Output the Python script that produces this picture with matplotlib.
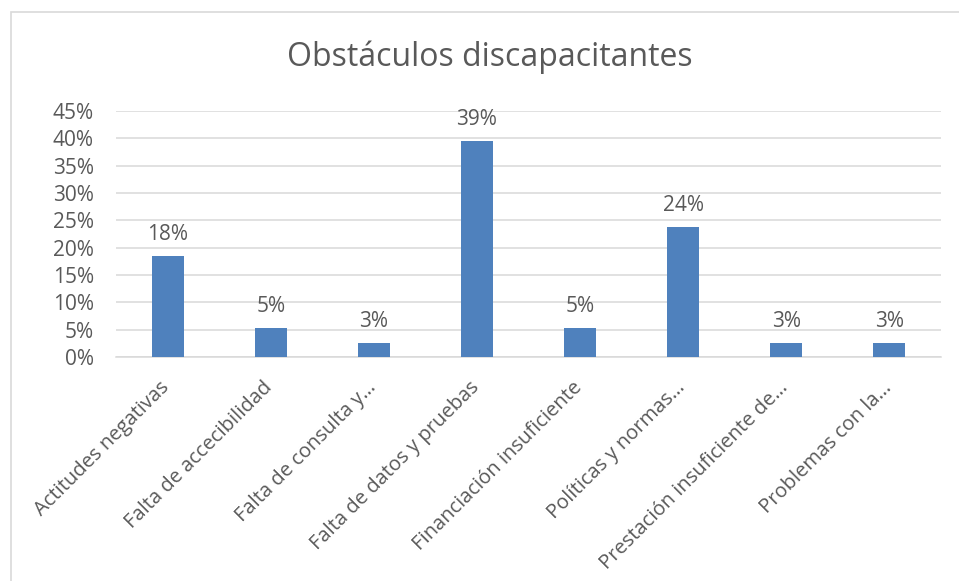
import matplotlib
matplotlib.use("Agg")
import matplotlib.pyplot as plt
import matplotlib.ticker as ticker
import matplotlib.transforms as mtransforms
from matplotlib.patches import Rectangle

# ── Data ──────────────────────────────────────────────────────────────────────
categories = [
    "Actitudes negativas",
    "Falta de accecibilidad",
    "Falta de consulta y…",
    "Falta de datos y pruebas",
    "Financiación insuficiente",
    "Políticas y normas…",
    "Prestación insuficiente de…",
    "Problemas con la…",
]
shares = [0.184, 0.053, 0.026, 0.395, 0.053, 0.237, 0.026, 0.026]
value_labels = ["18%", "5%", "3%", "39%", "5%", "24%", "3%", "3%"]
y_ticks = [0.00, 0.05, 0.10, 0.15, 0.20, 0.25, 0.30, 0.35, 0.40, 0.45]

TEXT = "#595959"
BAR = "#4f81bd"
GRID = "#d9d9d9"

plt.rcParams["font.family"] = ["Open Sans", "DejaVu Sans"]

fig = plt.figure(figsize=(9.59, 5.81), dpi=100)
ax = fig.add_axes([116 / 959, 1 - 357 / 581, (941 - 116) / 959, (357 - 111) / 581])

# chart border (only top/left visible in the crop)
fig.patches.append(Rectangle((10.5 / 959, -0.05), 1.1, 1 - 11.5 / 581 + 0.05,
                             transform=fig.transFigure, fill=False,
                             edgecolor="#d9d9d9", linewidth=1.2))

x = range(len(categories))
bars = ax.bar(x, shares, width=0.31, color=BAR, zorder=3)

for rect, lab in zip(bars, value_labels):
    ax.annotate(lab, xy=(rect.get_x() + rect.get_width() / 2, rect.get_height()),
                xytext=(0, 8), textcoords="offset points",
                ha="center", va="bottom", fontsize=15, color=TEXT)

ax.set_xlim(-0.5, len(categories) - 0.5)
ax.set_ylim(0, 0.45)
ax.set_yticks(y_ticks)
ax.yaxis.set_major_formatter(ticker.FuncFormatter(lambda v, _: f"{v * 100:.0f}%"))
ax.set_xticks(list(x))
ax.set_xticklabels(categories, rotation=45, ha="right", va="top",
                   rotation_mode="anchor", fontsize=14.5, color=TEXT)
ax.tick_params(axis="y", labelsize=15, labelcolor=TEXT, length=0, pad=16)
ax.tick_params(axis="x", length=0, pad=15)

# nudge rotated labels a bit to the left, like Excel places them
shift = mtransforms.ScaledTranslation(-0.08, 0, fig.dpi_scale_trans)
for lbl in ax.get_xticklabels():
    lbl.set_transform(lbl.get_transform() + shift)

ax.grid(axis="y", color=GRID, linewidth=1.1, zorder=0)
for side in ["top", "right", "left"]:
    ax.spines[side].set_visible(False)
ax.spines["bottom"].set_color(GRID)
ax.spines["bottom"].set_linewidth(1.1)

fig.text(490 / 959, 1 - 57 / 581, "Obstáculos discapacitantes",
         ha="center", va="center", fontsize=23, color=TEXT)

fig.savefig("out.png", dpi=100)
